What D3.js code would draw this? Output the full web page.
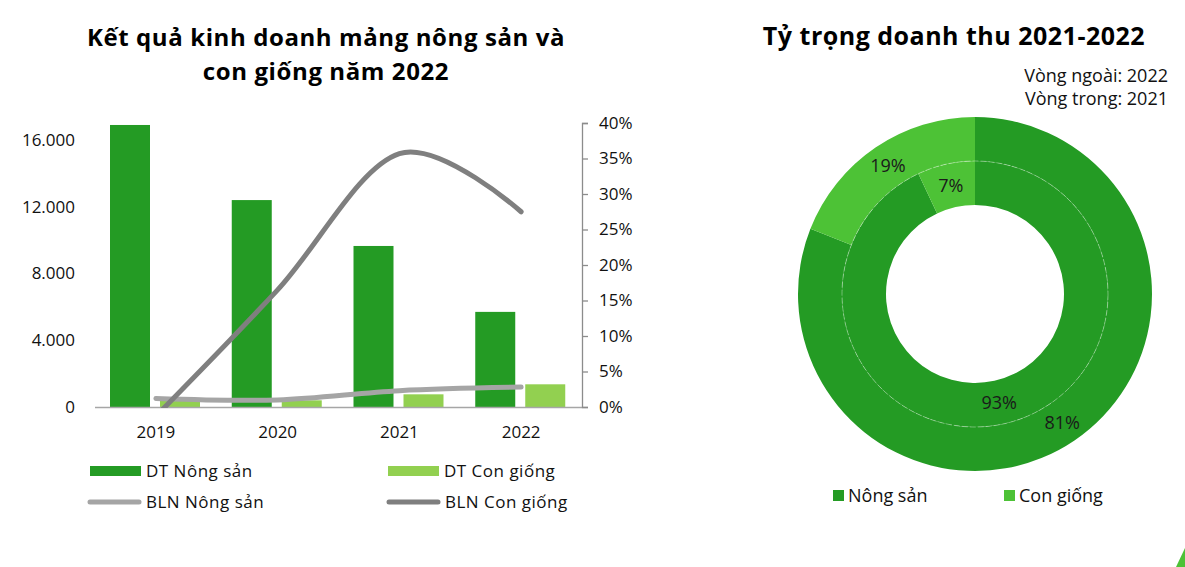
<!DOCTYPE html>
<html>
<head>
<meta charset="utf-8">
<script src="https://cdn.jsdelivr.net/npm/d3@7"></script>
<style>
  html, body { margin: 0; padding: 0; background: #fff; }
  svg { display: block; font-family: "Open Sans", "Noto Sans", sans-serif; }
</style>
</head>
<body>
<svg id="chart" width="1185" height="567"></svg>
<script>
// ---------- DATA ----------
const years = ["2019", "2020", "2021", "2022"];
const dtNongSan = [16900, 12400, 9650, 5700];      // DT Nông sản
const dtConGiong = [420, 400, 760, 1360];          // DT Con giống
const blnNongSan = [0.012, 0.010, 0.023, 0.028];   // BLN Nông sản
const blnConGiong = [-0.013, 0.165, 0.357, 0.275]; // BLN Con giống
const leftTicks = [0, 4000, 8000, 12000, 16000];
const rightTicks = [0, 0.05, 0.10, 0.15, 0.20, 0.25, 0.30, 0.35, 0.40];

const donutCats = ["Nông sản", "Con giống"];
const outer2022 = [81, 19];
const inner2021 = [93, 7];

// ---------- STYLE ----------
const C_DARK = "#249b24";
const C_LIGHT = "#92d050";
const C_DONUT_LIGHT = "#4dc236";
const C_LINE_LIGHT = "#a5a5a5";
const C_LINE_DARK = "#7f7f7f";
const C_TEXT = "#111";
const FS = 17;

const svg = d3.select("#chart");

// ---------- LEFT CHART ----------
const plot = { left: 95, right: 582, top: 123, bottom: 407 };

const x0 = d3.scaleBand().domain(years).range([plot.left, plot.right]);
const x1 = d3.scaleBand().domain(["ns", "cg"]).range([15, 105]).paddingInner(0.2);
const yL = d3.scaleLinear().domain([0, 16000]).range([plot.bottom, 140]);
const yR = d3.scaleLinear().domain([0, 0.40]).range([plot.bottom, plot.top]);

// titles
svg.append("text").attr("x", 326).attr("y", 46).attr("text-anchor", "middle")
  .attr("font-size", 24).attr("font-weight", 700).attr("fill", "#000")
  .attr("letter-spacing", 0.6)
  .text("Kết quả kinh doanh mảng nông sản và");
svg.append("text").attr("x", 326).attr("y", 80).attr("text-anchor", "middle")
  .attr("font-size", 24).attr("font-weight", 700).attr("fill", "#000")
  .attr("letter-spacing", 0.6)
  .text("con giống năm 2022");

// bars
const g = svg.append("g");
years.forEach((yr, i) => {
  g.append("rect")
    .attr("x", x0(yr) + x1("ns")).attr("width", x1.bandwidth())
    .attr("y", yL(dtNongSan[i])).attr("height", yL(0) - yL(dtNongSan[i]))
    .attr("fill", C_DARK);
  g.append("rect")
    .attr("x", x0(yr) + x1("cg")).attr("width", x1.bandwidth())
    .attr("y", yL(dtConGiong[i])).attr("height", yL(0) - yL(dtConGiong[i]))
    .attr("fill", C_LIGHT);
});

// baseline
svg.append("line").attr("x1", plot.left).attr("x2", plot.right)
  .attr("y1", plot.bottom + 0.5).attr("y2", plot.bottom + 0.5)
  .attr("stroke", "#a6a6a6").attr("stroke-width", 1.3);

// left axis labels
const axL = d3.axisLeft(yL).tickValues(leftTicks).tickSize(0).tickPadding(0)
  .tickFormat(d => d3.format(",")(d).replace(/,/g, "."));
const gL = svg.append("g").attr("transform", "translate(75,0)").call(axL);
gL.select(".domain").remove();
gL.selectAll("text").attr("font-size", FS).attr("fill", C_TEXT)
  .attr("font-family", "Open Sans, Noto Sans, sans-serif");

// right axis
const axR = d3.axisRight(yR).tickValues(rightTicks).tickSize(6).tickPadding(11)
  .tickFormat(d3.format(".0%"));
const gR = svg.append("g").attr("transform", `translate(${plot.right},0)`).call(axR);
gR.select(".domain").attr("stroke", "#8c8c8c").attr("stroke-width", 1.3);
gR.selectAll(".tick line").attr("stroke", "#8c8c8c").attr("stroke-width", 1.3);
gR.selectAll("text").attr("font-size", FS).attr("fill", C_TEXT)
  .attr("font-family", "Open Sans, Noto Sans, sans-serif");

// x axis labels
const axX = d3.axisBottom(x0).tickSize(0).tickPadding(19);
const gX = svg.append("g").attr("transform", `translate(0,${plot.bottom})`).call(axX);
gX.select(".domain").remove();
gX.selectAll("text").attr("font-size", FS).attr("fill", C_TEXT)
  .attr("font-family", "Open Sans, Noto Sans, sans-serif");

// lines (clipped to plot area)
svg.append("clipPath").attr("id", "plotclip").append("rect")
  .attr("x", plot.left - 10).attr("y", 0).attr("width", plot.right - plot.left + 20)
  .attr("height", plot.bottom + 1);
const lineGen = d3.line()
  .x((d, i) => x0(years[i]) + x0.bandwidth() / 2)
  .y(d => yR(d))
  .curve(d3.curveCardinal.tension(0));
const lg = svg.append("g").attr("clip-path", "url(#plotclip)");
lg.append("path").datum(blnNongSan).attr("d", lineGen)
  .attr("fill", "none").attr("stroke", C_LINE_LIGHT).attr("stroke-width", 5)
  .attr("stroke-linecap", "round");
lg.append("path").datum(blnConGiong).attr("d", lineGen)
  .attr("fill", "none").attr("stroke", C_LINE_DARK).attr("stroke-width", 5)
  .attr("stroke-linecap", "round");

// left legend
const legItems = [
  { name: "DT Nông sản", type: "rect", color: C_DARK, x: 90, y: 471 },
  { name: "DT Con giống", type: "rect", color: C_LIGHT, x: 388, y: 471 },
  { name: "BLN Nông sản", type: "line", color: C_LINE_LIGHT, x: 90, y: 502 },
  { name: "BLN Con giống", type: "line", color: C_LINE_DARK, x: 389, y: 502 }
];
legItems.forEach(it => {
  if (it.type === "rect") {
    svg.append("rect").attr("x", it.x).attr("y", it.y - 5).attr("width", 51).attr("height", 10)
      .attr("fill", it.color);
  } else {
    svg.append("line").attr("x1", it.x).attr("x2", it.x + 49).attr("y1", it.y).attr("y2", it.y)
      .attr("stroke", it.color).attr("stroke-width", 5).attr("stroke-linecap", "round");
  }
  svg.append("text").attr("x", it.x + 56).attr("y", it.y).attr("dy", "0.35em")
    .attr("font-size", FS).attr("letter-spacing", 0.5).attr("fill", C_TEXT).text(it.name);
});

// ---------- RIGHT DONUT ----------
svg.append("text").attr("x", 954).attr("y", 45).attr("text-anchor", "middle")
  .attr("font-size", 25).attr("font-weight", 700).attr("fill", "#000")
  .attr("letter-spacing", 0.5)
  .text("Tỷ trọng doanh thu 2021-2022");
svg.append("text").attr("x", 1168).attr("y", 76).attr("dy", "0.35em").attr("text-anchor", "end")
  .attr("font-size", 18).attr("fill", C_TEXT).text("Vòng ngoài: 2022");
svg.append("text").attr("x", 1168).attr("y", 99).attr("dy", "0.35em").attr("text-anchor", "end")
  .attr("font-size", 18).attr("fill", C_TEXT).text("Vòng trong: 2021");

const cx = 975, cy = 294;
const color = d3.scaleOrdinal().domain(donutCats).range([C_DARK, C_DONUT_LIGHT]);
const pie = d3.pie().sort(null).value(d => d.v);
const dg = svg.append("g").attr("transform", `translate(${cx},${cy})`);

const rings = [
  { data: outer2022, r0: 133, r1: 177 },
  { data: inner2021, r0: 89, r1: 133 }
];
rings.forEach(ring => {
  const arcs = pie(ring.data.map((v, i) => ({ v, c: donutCats[i] })));
  const arc = d3.arc().innerRadius(ring.r0).outerRadius(ring.r1);
  dg.selectAll(null).data(arcs).enter().append("path")
    .attr("d", arc).attr("fill", d => color(d.data.c));
  dg.selectAll(null).data(arcs).enter().append("text")
    .attr("transform", d => `translate(${arc.centroid(d)})`)
    .attr("text-anchor", "middle").attr("dy", "0.35em")
    .attr("font-size", 18).attr("fill", "#1a1a1a")
    .text(d => d.data.v + "%");
});
// faint separator between rings
dg.append("circle").attr("r", 133).attr("fill", "none")
  .attr("stroke", "#fff").attr("stroke-opacity", 0.45).attr("stroke-width", 0.8)
  .attr("stroke-dasharray", "6,2");

// donut legend
const dl = [{ x: 833 }, { x: 1004 }];
donutCats.forEach((c, i) => {
  svg.append("rect").attr("x", dl[i].x).attr("y", 490).attr("width", 11).attr("height", 11)
    .attr("fill", color(c));
  svg.append("text").attr("x", dl[i].x + 15).attr("y", 496).attr("dy", "0.35em")
    .attr("font-size", 18).attr("fill", C_TEXT).text(c);
});

// small corner fragment
svg.append("path").attr("d", "M1185,548 L1185,567 L1176,567 Z").attr("fill", C_DONUT_LIGHT);
</script>
</body>
</html>
